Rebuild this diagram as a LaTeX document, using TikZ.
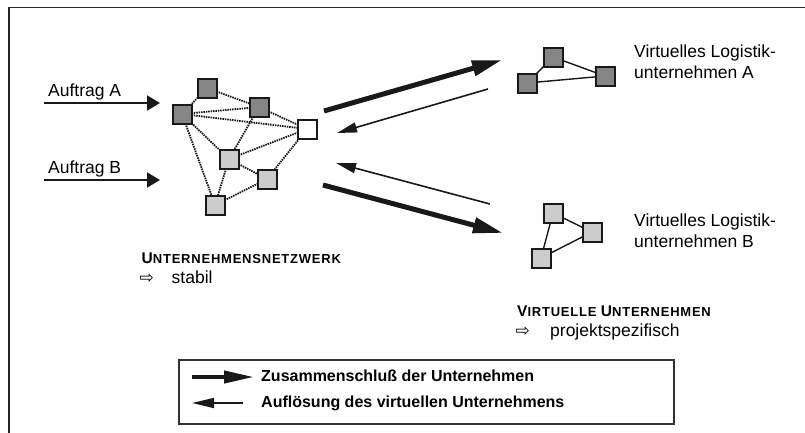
\documentclass[tikz,border=0pt]{standalone}
\usepackage{fontspec}
\setmainfont{Liberation Sans}
\newfontfamily\symfnt{DejaVu Sans}
\usetikzlibrary{arrows.meta}
\begin{document}
\begin{tikzpicture}[x=1pt,y=-1pt,
  firm/.style={draw=black!90, line width=2pt, minimum size=19pt, inner sep=0pt, outer sep=0pt},
  darkfirm/.style={firm, fill=black!48},
  lightfirm/.style={firm, fill=black!20},
  whitefirm/.style={firm, fill=white},
  netlink/.style={draw=black!90, line width=1.8pt, dash pattern=on 1.5pt off 0.9pt},
  vlink/.style={draw=black!90, line width=1.4pt},
  bigarrow/.style={draw=black!90, line width=5pt, -{Triangle[length=30pt,width=15pt]}},
  thinarrow/.style={draw=black!90, line width=1.6pt, -{Triangle[length=20pt,width=10pt]}},
  orderarrow/.style={draw=black!90, line width=2pt, -{Triangle[length=13pt,width=15pt]}},
  lbl/.style={inner sep=0pt, anchor=base west, font=\fontsize{17.5}{20}\selectfont},
  legtxt/.style={inner sep=0pt, anchor=base west, font=\fontsize{16}{19}\selectfont\bfseries},
  headtxt/.style={inner sep=0pt, anchor=base west, font=\bfseries},
  symtxt/.style={inner sep=0pt, anchor=base west, font=\symfnt\fontsize{17}{18}\selectfont}
]
\useasboundingbox (0,0) rectangle (805,432);
\fill[white] (0,0) rectangle (805,432);
% outer frame
\draw[black!85, line width=1.5pt] (9,440) -- (9,7.5) -- (812,7.5);

% company network
\node[darkfirm] (n1) at (207,88) {};
\node[darkfirm] (n2) at (182,114) {};
\node[darkfirm] (n3) at (259,107) {};
\node[whitefirm] (n4) at (307,129) {};
\node[lightfirm] (n5) at (229,159) {};
\node[lightfirm] (n6) at (267,179) {};
\node[lightfirm] (n7) at (215,205) {};
\draw[netlink] (n1) -- (n2);
\draw[netlink] (n1) -- (n3);
\draw[netlink] (n2) -- (n3);
\draw[netlink] (n2) -- (n4);
\draw[netlink] (n2) -- (n5);
\draw[netlink] (n2) -- (n7);
\draw[netlink] (n3) -- (n4);
\draw[netlink] (n3) -- (n5);
\draw[netlink] (n5) -- (n4);
\draw[netlink] (n5) -- (n6);
\draw[netlink] (n4) -- (n6);
\draw[netlink] (n5) -- (n7);
\draw[netlink] (n7) -- (n6);

% orders
\node[lbl] (ta) at (48,96) {Auftrag A};
\node[lbl] (tb) at (48,173) {Auftrag B};
\coordinate (a1s) at (44,103);
\coordinate (a1e) at (160,103);
\coordinate (a2s) at (44,180);
\coordinate (a2e) at (160,180);
\draw[orderarrow] (a1s) -- (a1e);
\draw[orderarrow] (a2s) -- (a2e);

% virtual company A
\node[darkfirm] (va1) at (553,57) {};
\node[darkfirm] (va2) at (527,83) {};
\node[darkfirm] (va3) at (605,76) {};
\draw[vlink] (va1) -- (va2);
\draw[vlink] (va1) -- (va3);
\draw[vlink] (va2) -- (va3);
\node[lbl] (vta1) at (634,57.5) {Virtuelles Logistik-};
\node[lbl] (vta2) at (634,78.5) {unternehmen A};

% virtual company B
\node[lightfirm] (vb1) at (553,213) {};
\node[lightfirm] (vb2) at (592,232) {};
\node[lightfirm] (vb3) at (541,258) {};
\draw[vlink] (vb1) -- (vb2);
\draw[vlink] (vb1) -- (vb3);
\draw[vlink] (vb3) -- (vb2);
\node[lbl] (vtb1) at (634,226.5) {Virtuelles Logistik-};
\node[lbl] (vtb2) at (634,247.5) {unternehmen B};

% middle arrows
\coordinate (m1s) at (324,111);
\coordinate (m1e) at (502,60);
\coordinate (m2s) at (488,89);
\coordinate (m2e) at (337,133);
\coordinate (m3s) at (490,204);
\coordinate (m3e) at (336,163);
\coordinate (m4s) at (323,185);
\coordinate (m4e) at (503,233);
\draw[bigarrow] (m1s) -- (m1e);
\draw[thinarrow] (m2s) -- (m2e);
\draw[thinarrow] (m3s) -- (m3e);
\draw[bigarrow] (m4s) -- (m4e);

% headings
\node[headtxt] (h1) at (141.5,263) {{\fontsize{15.5}{16}\selectfont U}{\addfontfeatures{LetterSpace=6}\fontsize{13}{14}\selectfont NTERNEHMENSNETZWERK}};
\node[symtxt] (s1) at (139.5,283) {⇨};
\node[lbl] (st1) at (171.5,283) {stabil};
\node[headtxt] (h2) at (517,316.5) {{\fontsize{15.5}{16}\selectfont V}{\addfontfeatures{LetterSpace=6}\fontsize{13}{14}\selectfont IRTUELLE }{\fontsize{15.5}{16}\selectfont U}{\addfontfeatures{LetterSpace=6}\fontsize{13}{14}\selectfont NTERNEHMEN}};
\node[symtxt] (s2) at (515.5,336.5) {⇨};
\node[lbl] (st2) at (550,336.5) {projektspezifisch};

% legend
\node[draw=black!80, line width=1.5pt, minimum width=495pt, minimum height=64pt, anchor=north west, inner sep=0pt] (leg) at (178,359) {};
\coordinate (l1s) at (192,377);
\coordinate (l1e) at (254,377);
\coordinate (l2s) at (243,403);
\coordinate (l2e) at (192,403);
\draw[draw=black!90, line width=4pt, -{Triangle[length=30pt,width=12pt]}] (l1s) -- (l1e);
\draw[draw=black!90, line width=1.6pt, -{Triangle[length=22pt,width=10pt]}] (l2s) -- (l2e);
\node[legtxt] (lt1) at (261,381.5) {Zusammenschluß der Unternehmen};
\node[legtxt] (lt2) at (261,407) {Auflösung des virtuellen Unternehmens};
\end{tikzpicture}
\end{document}
